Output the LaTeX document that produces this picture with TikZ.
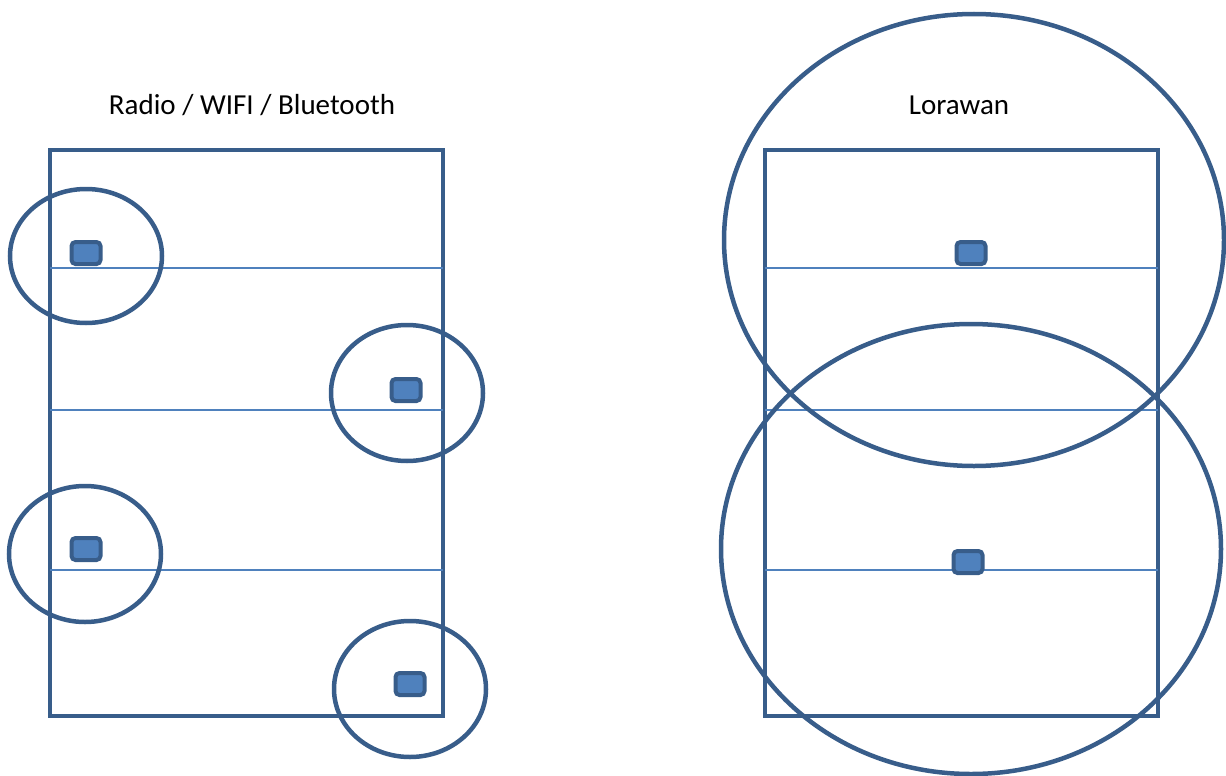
\documentclass[tikz,border=0pt]{standalone}
\usepackage{fontspec}
\setmainfont{Carlito}
\definecolor{edge}{HTML}{385D8A}
\definecolor{fillblue}{HTML}{4F81BD}
\begin{document}
\begin{tikzpicture}[x=1pt,y=-1pt,
  frame/.style={draw=edge,line width=4.5pt},
  rowline/.style={draw=fillblue,line width=1.5pt},
  device/.style={draw=edge,fill=fillblue,line width=4pt,rounded corners=4pt,minimum width=29pt,minimum height=22pt,inner sep=0pt},
  coverage/.style={draw=edge,line width=4.5pt},
  caption/.style={font=\fontsize{29}{34}\selectfont,text=black}]
\useasboundingbox (0,0) rectangle (1226,776);

% left site: short-range radios
\draw[frame] (50,150) rectangle (443,716);
\foreach \y in {268,410,570} \draw[rowline] (50,\y) -- (443,\y);
\node[caption] (t1) at (252,105) {Radio / WIFI / Bluetooth};
\node[device] (d1) at (86,253) {};
\node[device] (d2) at (406,390) {};
\node[device] (d3) at (86,549) {};
\node[device] (d4) at (410,684) {};
\draw[coverage] (86,256) ellipse [x radius=76,y radius=67];
\draw[coverage] (407,393) ellipse [x radius=76,y radius=68];
\draw[coverage] (85,554) ellipse [x radius=76,y radius=68];
\draw[coverage] (410,689) ellipse [x radius=76,y radius=68];

% right site: long-range LoRaWAN
\draw[frame] (765,150) rectangle (1158,716);
\foreach \y in {268,410,570} \draw[rowline] (765,\y) -- (1158,\y);
\node[caption] (t2) at (959,105) {Lorawan};
\node[device] (d5) at (971,253) {};
\node[device] (d6) at (968,562) {};
\draw[coverage] (974,240) ellipse [x radius=250,y radius=226];
\draw[coverage] (971,549) ellipse [x radius=250,y radius=225];
\end{tikzpicture}
\end{document}
